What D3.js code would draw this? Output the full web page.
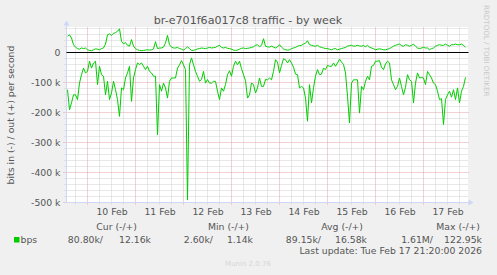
<!DOCTYPE html>
<html>
<head>
<meta charset="utf-8">
<script src="https://cdn.jsdelivr.net/npm/d3@7"></script>
<style>
  body { margin: 0; background: #f0f0f0; }
  svg text { font-family: "DejaVu Sans", sans-serif; fill: #555; }
</style>
</head>
<body>
<svg id="chart"></svg>
<script>
// Chart values (k = 1000 bits per second)
const graphTitle = 'br-e701f6a017c8 traffic - by week';
const yAxisLabel = 'bits in (-) / out (+) per second';
const firstSample = Date.UTC(2026, 1, 9, 14, 0);   // Feb 9 14:00
const stepHours = 1;

// out (+), drawn above zero
const outValues = [
  54, 59, 48, 26, 18, 13, 11, 15, 13, 15,
  9, 7, 6, 9, 12, 11, 9, 13, 15, 28,
  59, 62, 57, 64, 66, 71, 79, 37, 29, 33,
  24, 21, 43, 21, 13, 9, 7, 6, 7, 8,
  9, 8, 9, 12, 36, 13, 15, 15, 18, 32,
  57, 26, 18, 15, 15, 17, 13, 11, 8, 13,
  19, 13, 7, 7, 9, 12, 13, 15, 14, 13,
  15, 17, 15, 16, 17, 21, 24, 17, 15, 17,
  14, 13, 11, 8, 7, 8, 11, 14, 15, 13,
  14, 15, 17, 19, 24, 26, 19, 24, 46, 21,
  19, 18, 21, 18, 15, 19, 26, 18, 12, 9,
  8, 9, 13, 15, 17, 21, 23, 24, 28, 31,
  39, 26, 24, 22, 21, 24, 19, 17, 15, 13,
  13, 11, 9, 12, 13, 9, 11, 13, 15, 17,
  21, 23, 24, 21, 22, 24, 22, 21, 23, 19,
  24, 18, 15, 13, 9, 11, 12, 11, 9, 9,
  11, 13, 17, 21, 24, 26, 28, 23, 21, 26,
  24, 21, 24, 28, 21, 15, 13, 15, 17, 15,
  15, 9, 13, 15, 21, 24, 26, 24, 24, 28,
  24, 21, 26, 26, 28, 26, 26, 28, 24, 17
];

// in (-), drawn below zero
const inValues = [
  124, 191, 168, 141, 141, 157, 102, 74, 52, 68,
  63, 29, 52, 35, 29, 107, 46, 74, 79, 141,
  96, 157, 135, 96, 124, 157, 213, 118, 124, 85,
  68, 46, 163, 85, 57, 35, 40, 35, 46, 57,
  46, 63, 68, 79, 79, 274, 107, 129, 102, 118,
  152, 96, 85, 85, 85, 52, 41, 27, 41, 57,
  492, 41, 18, 41, 63, 79, 96, 90, 63, 102,
  90, 102, 102, 96, 96, 129, 157, 118, 129, 107,
  74, 61, 79, 46, 29, 41, 29, 54, 74, 94,
  152, 141, 102, 107, 135, 118, 85, 113, 113, 90,
  91, 85, 91, 63, 24, 32, 68, 43, 21, 24,
  35, 24, 35, 49, 72, 74, 118, 113, 118, 152,
  229, 107, 168, 118, 79, 57, 74, 72, 52, 57,
  43, 46, 46, 35, 46, 35, 22, 32, 40, 68,
  146, 235, 102, 91, 91, 91, 202, 113, 124, 96,
  79, 91, 46, 43, 29, 29, 27, 49, 57, 38,
  29, 35, 91, 107, 124, 113, 85, 113, 141, 116,
  74, 91, 96, 168, 102, 68, 85, 83, 85, 107,
  63, 74, 85, 102, 107, 129, 157, 154, 240, 157,
  141, 129, 149, 124, 157, 118, 168, 129, 113, 83
];

const yTicks = [0, -100, -200, -300, -400, -500];
const dayLabels = ['10 Feb', '11 Feb', '12 Feb', '13 Feb', '14 Feb', '15 Feb', '16 Feb', '17 Feb'];
const legendHeads = ['Cur (-/+)', 'Min (-/+)', 'Avg (-/+)', 'Max (-/+)'];
const legendValues = ['80.80k/', '12.16k', '2.60k/', '1.14k', '89.15k/', '16.58k', '1.61M/', '122.95k'];
const seriesName = 'bps';
const lastUpdate = 'Last update: Tue Feb 17 21:20:00 2026';

class MuninGraph {

  constructor(_config) {
    this.config = {
      parentElement: _config.parentElement,
      containerWidth: _config.containerWidth || 497,
      containerHeight: _config.containerHeight || 275,
      plot: _config.plot || {left: 66.5, right: 468.5, top: 27.5, bottom: 202.5},
      color: _config.color || '#00cc00'
    };
    this.initVis();
  }

  initVis() {
    let vis = this;
    const p = vis.config.plot;

    vis.data = outValues.map((d, i) => ({
      time: new Date(firstSample + i * stepHours * 3600e3),
      out: d,
      in: inValues[i]
    }));

    vis.xScale = d3.scaleUtc()
      .domain([Date.UTC(2026, 1, 9, 13, 30), Date.UTC(2026, 1, 17, 22, 30)])
      .range([p.left, p.right]);

    vis.yScale = d3.scaleLinear()
      .domain([-500, 83.33])
      .range([p.bottom, p.top]);

    vis.svg = d3.select(vis.config.parentElement)
      .attr('width', vis.config.containerWidth)
      .attr('height', vis.config.containerHeight);

    vis.svg.append('defs').append('clipPath').attr('id', 'plot-clip')
      .append('rect')
      .attr('x', p.left).attr('y', p.top)
      .attr('width', p.right - p.left).attr('height', p.bottom - p.top);

    vis.renderVis();
  }

  renderVis() {
    let vis = this;
    const p = vis.config.plot;
    const x = vis.xScale, y = vis.yScale;

    // canvas
    vis.svg.append('rect')
      .attr('x', p.left - 0.5).attr('y', p.top - 0.5)
      .attr('width', p.right - p.left).attr('height', p.bottom - p.top + 0.5)
      .attr('fill', '#fff');

    // minor grid: every 6 hours and every 20k
    const hours = x.ticks(d3.utcHour.every(6)).filter(d => d.getUTCHours() !== 0);
    const days = x.ticks(d3.utcDay.every(1));
    const minorY = d3.range(-480, 81, 20).filter(v => v % 100 !== 0);

    const grid = vis.svg.append('g').attr('fill', 'none');

    grid.selectAll('.vminor').data(hours).join('line')
      .attr('x1', d => x(d)).attr('x2', d => x(d))
      .attr('y1', p.top).attr('y2', p.bottom + 2)
      .attr('stroke', '#d0d0d0').attr('stroke-dasharray', '1,1');

    grid.selectAll('.hminor').data(minorY).join('line')
      .attr('x1', p.left - 2).attr('x2', p.right)
      .attr('y1', d => y(d)).attr('y2', d => y(d))
      .attr('stroke', '#d0d0d0').attr('stroke-dasharray', '1,1');

    grid.selectAll('.vmajor').data(days).join('line')
      .attr('x1', d => x(d)).attr('x2', d => x(d))
      .attr('y1', p.top).attr('y2', p.bottom + 3)
      .attr('stroke', '#e2a2a2').attr('stroke-dasharray', '1,1');

    grid.selectAll('.hmajor').data(yTicks.slice(1)).join('line')
      .attr('x1', p.left - 3).attr('x2', p.right)
      .attr('y1', d => y(d)).attr('y2', d => y(d))
      .attr('stroke', '#e2a2a2').attr('stroke-dasharray', '1,1');

    // axes lines with arrows
    const axisColor = '#cfd6f8';
    vis.svg.append('line')
      .attr('x1', p.left).attr('x2', p.left)
      .attr('y1', p.bottom).attr('y2', p.top - 3)
      .attr('stroke', axisColor);
    vis.svg.append('path')
      .attr('d', `M${p.left - 3},${p.top - 2}L${p.left + 3},${p.top - 2}L${p.left},${p.top - 7}Z`)
      .attr('fill', axisColor);
    vis.svg.append('line')
      .attr('x1', p.left).attr('x2', p.right + 1)
      .attr('y1', p.bottom).attr('y2', p.bottom)
      .attr('stroke', axisColor);
    vis.svg.append('path')
      .attr('d', `M${p.right},${p.bottom - 3}L${p.right},${p.bottom + 3}L${p.right + 5},${p.bottom}Z`)
      .attr('fill', axisColor);

    // series
    const plot = vis.svg.append('g').attr('clip-path', 'url(#plot-clip)');

    const outLine = d3.line().x(d => x(d.time)).y(d => y(d.out));
    const inLine = d3.line().x(d => x(d.time)).y(d => y(-d.in));

    plot.append('path').datum(vis.data)
      .attr('d', inLine)
      .attr('fill', 'none').attr('stroke', vis.config.color).attr('stroke-width', 1);
    plot.append('path').datum(vis.data)
      .attr('d', outLine)
      .attr('fill', 'none').attr('stroke', vis.config.color).attr('stroke-width', 1);

    // zero rule
    vis.svg.append('line')
      .attr('x1', p.left).attr('x2', p.right)
      .attr('y1', y(0)).attr('y2', y(0))
      .attr('stroke', '#000').attr('stroke-width', 1.2);

    // y axis labels
    const yAxis = d3.axisLeft(y)
      .tickValues(yTicks)
      .tickSize(0)
      .tickPadding(6)
      .tickFormat(d => d === 0 ? '0' : `${d} k`);
    const yAxisG = vis.svg.append('g')
      .attr('transform', `translate(${p.left},0)`)
      .call(yAxis);
    yAxisG.select('.domain').remove();
    yAxisG.selectAll('text').attr('font-size', 9.3).attr('font-family', null).attr('fill', '#555');

    // x axis labels at noon
    const noons = days.map(d => d3.utcHour.offset(d, 12)).slice(0, dayLabels.length);
    const xAxis = d3.axisBottom(x)
      .tickValues(noons)
      .tickSize(0)
      .tickPadding(6)
      .tickFormat((d, i) => dayLabels[i]);
    const xAxisG = vis.svg.append('g')
      .attr('transform', `translate(0,${p.bottom})`)
      .call(xAxis);
    xAxisG.select('.domain').remove();
    xAxisG.selectAll('text').attr('font-size', 9.3).attr('font-family', null).attr('fill', '#555');

    // title and axis label
    vis.svg.append('text')
      .attr('x', 248).attr('y', 24)
      .attr('text-anchor', 'middle')
      .attr('font-size', 11.1)
      .text(graphTitle);

    vis.svg.append('text')
      .attr('transform', 'translate(14,115) rotate(-90)')
      .attr('text-anchor', 'middle')
      .attr('font-size', 9.3)
      .text(yAxisLabel);

    vis.svg.append('text')
      .attr('transform', 'translate(484,5) rotate(90)')
      .attr('font-size', 7.1)
      .style('fill', '#c8c8c8')
      .text('RRDTOOL / TOBI OETIKER');

    // legend
    const headX = [137, 249, 363, 480];
    vis.svg.selectAll('.head').data(legendHeads).join('text')
      .attr('x', (d, i) => headX[i]).attr('y', 230)
      .attr('text-anchor', 'end')
      .attr('font-size', 9.3)
      .text(d => d);

    vis.svg.append('rect')
      .attr('x', 14).attr('y', 237)
      .attr('width', 5.5).attr('height', 5.5)
      .attr('fill', vis.config.color);
    vis.svg.append('text')
      .attr('x', 20.5).attr('y', 242.7)
      .attr('font-size', 9.3)
      .text(seriesName);

    const valueX = [103, 151, 213, 253, 321, 367, 433, 482];
    vis.svg.selectAll('.val').data(legendValues).join('text')
      .attr('x', (d, i) => valueX[i]).attr('y', 242.7)
      .attr('text-anchor', 'end')
      .attr('font-size', 9.3)
      .text(d => d);

    vis.svg.append('text')
      .attr('x', 482).attr('y', 253.5)
      .attr('text-anchor', 'end')
      .attr('font-size', 9.3)
      .text(lastUpdate);

    vis.svg.append('text')
      .attr('x', 248).attr('y', 266)
      .attr('text-anchor', 'middle')
      .attr('font-size', 7)
      .style('fill', '#d6d6d6')
      .text('Munin 2.0.76');
  }
}

new MuninGraph({parentElement: '#chart'});
</script>
</body>
</html>
